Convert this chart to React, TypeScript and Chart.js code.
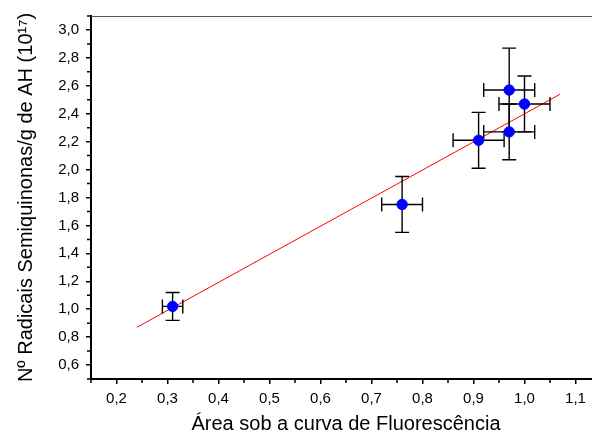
import React, { useEffect, useRef } from "react";
import { Chart, registerables } from "chart.js";

Chart.register(...registerables);

// Data
const xVals = [0.31, 0.76, 0.91, 0.97, 0.97, 1.0];
const yVals = [1.02, 1.75, 2.21, 2.57, 2.27, 2.47];
const xErr = [0.02, 0.04, 0.05, 0.05, 0.05, 0.05];
const yErr = [0.1, 0.2, 0.2, 0.3, 0.2, 0.2];

// Linear fit endpoints
const fitX = [0.24, 1.07];
const fitY = [0.87, 2.54];

// Axis ticks
const xTicks = [0.2, 0.3, 0.4, 0.5, 0.6, 0.7, 0.8, 0.9, 1.0, 1.1];
const xMinor = [0.15, 0.25, 0.35, 0.45, 0.55, 0.65, 0.75, 0.85, 0.95, 1.05, 1.15];
const yTicks = [0.6, 0.8, 1.0, 1.2, 1.4, 1.6, 1.8, 2.0, 2.2, 2.4, 2.6, 2.8, 3.0];
const yMinor = [0.5, 0.7, 0.9, 1.1, 1.3, 1.5, 1.7, 1.9, 2.1, 2.3, 2.5, 2.7, 2.9, 3.1];

const xTitle = "Área sob a curva de Fluorescência";
const yTitle = "Nº Radicais Semiquinonas/g de AH (10¹⁷)";

const FONT = 'Arial, "Liberation Sans", sans-serif';
const fmt = (v: number) => Number(v).toFixed(1).replace(".", ",");

const errorBarPlugin = {
  id: "errorBars",
  beforeDatasetDraw(chart: any, args: any) {
    if (args.index !== 0) return;
    const { ctx, scales } = chart;
    const xs = scales.x;
    const ys = scales.y;
    const cap = 7;
    ctx.save();
    ctx.strokeStyle = "#000";
    ctx.lineWidth = 1.4;
    for (let i = 0; i < xVals.length; i++) {
      const cx = xs.getPixelForValue(xVals[i]);
      const cy = ys.getPixelForValue(yVals[i]);
      const yTop = ys.getPixelForValue(yVals[i] + yErr[i]);
      const yBot = ys.getPixelForValue(yVals[i] - yErr[i]);
      const xL = xs.getPixelForValue(xVals[i] - xErr[i]);
      const xR = xs.getPixelForValue(xVals[i] + xErr[i]);
      ctx.beginPath();
      ctx.moveTo(cx, yTop);
      ctx.lineTo(cx, yBot);
      ctx.moveTo(cx - cap, yTop);
      ctx.lineTo(cx + cap, yTop);
      ctx.moveTo(cx - cap, yBot);
      ctx.lineTo(cx + cap, yBot);
      ctx.moveTo(xL, cy);
      ctx.lineTo(xR, cy);
      ctx.moveTo(xL, cy - cap);
      ctx.lineTo(xL, cy + cap);
      ctx.moveTo(xR, cy - cap);
      ctx.lineTo(xR, cy + cap);
      ctx.stroke();
    }
    ctx.restore();
  },
};

const framePlugin = {
  id: "frame",
  afterDraw(chart: any) {
    const { ctx, chartArea, scales } = chart;
    ctx.save();
    // top grey line
    ctx.strokeStyle = "#555";
    ctx.lineWidth = 1;
    ctx.beginPath();
    ctx.moveTo(chartArea.left, chartArea.top + 0.5);
    ctx.lineTo(chartArea.right, chartArea.top + 0.5);
    ctx.stroke();
    // minor ticks
    ctx.strokeStyle = "#000";
    ctx.lineWidth = 1.5;
    ctx.beginPath();
    for (const v of xMinor) {
      const px = scales.x.getPixelForValue(v);
      ctx.moveTo(px, chartArea.bottom);
      ctx.lineTo(px, chartArea.bottom + 4);
    }
    for (const v of yMinor) {
      const py = scales.y.getPixelForValue(v);
      ctx.moveTo(chartArea.left, py);
      ctx.lineTo(chartArea.left - 4, py);
    }
    ctx.stroke();
    ctx.restore();
  },
};

export default function App() {
  const ref = useRef<HTMLCanvasElement | null>(null);

  useEffect(() => {
    if (!ref.current) return;
    const chart = new Chart(ref.current, {
      type: "scatter",
      data: {
        datasets: [
          {
            label: "data",
            data: xVals.map((x, i) => ({ x, y: yVals[i] })),
            backgroundColor: "#0000ff",
            borderColor: "#0000ff",
            pointRadius: 5.2,
            pointHoverRadius: 5.2,
            order: 1,
          },
          {
            label: "fit",
            type: "line",
            data: fitX.map((x, i) => ({ x, y: fitY[i] })),
            borderColor: "#ff0000",
            borderWidth: 1,
            pointRadius: 0,
            fill: false,
            order: 2,
          } as any,
        ],
      },
      options: {
        animation: false,
        responsive: true,
        maintainAspectRatio: false,
        layout: { padding: { left: 0, top: 14, right: 9, bottom: 0 } },
        plugins: { legend: { display: false }, tooltip: { enabled: false } },
        scales: {
          x: {
            type: "linear",
            min: 0.15,
            max: 1.15,
            afterBuildTicks: (s: any) => {
              s.ticks = xTicks.map((v) => ({ value: v }));
            },
            afterFit: (s: any) => {
              s.height = 58;
            },
            grid: {
              drawOnChartArea: false,
              drawTicks: true,
              tickLength: 5,
              color: "#000",
              lineWidth: 1.5,
            },
            border: { display: true, color: "#000", width: 2 },
            ticks: {
              color: "#000",
              font: { family: FONT, size: 15 },
              padding: 6,
              maxRotation: 0,
              autoSkip: false,
              callback: (v: any) => fmt(v),
            },
            title: {
              display: true,
              text: xTitle,
              color: "#000",
              font: { family: FONT, size: 20 },
              padding: { top: 0, bottom: 1 },
            },
          },
          y: {
            type: "linear",
            min: 0.5,
            max: 3.1,
            afterBuildTicks: (s: any) => {
              s.ticks = yTicks.map((v) => ({ value: v }));
            },
            afterFit: (s: any) => {
              s.width = 91;
            },
            grid: {
              drawOnChartArea: false,
              drawTicks: true,
              tickLength: 5,
              color: "#000",
              lineWidth: 1.5,
            },
            border: { display: true, color: "#000", width: 2 },
            ticks: {
              color: "#000",
              font: { family: FONT, size: 15 },
              padding: 7,
              autoSkip: false,
              callback: (v: any) => fmt(v),
            },
            title: {
              display: true,
              text: yTitle,
              color: "#000",
              font: { family: FONT, size: 20 },
              padding: { top: 14, bottom: 0 },
            },
          },
        },
      },
      plugins: [errorBarPlugin, framePlugin],
    });
    return () => chart.destroy();
  }, []);

  return (
    <div
      style={{
        position: "fixed",
        left: 0,
        top: 0,
        width: 592,
        height: 437,
        overflow: "hidden",
        background: "#fff",
      }}
    >
      <div style={{ position: "relative", width: 610, height: 437 }}>
        <canvas ref={ref} />
      </div>
    </div>
  );
}
